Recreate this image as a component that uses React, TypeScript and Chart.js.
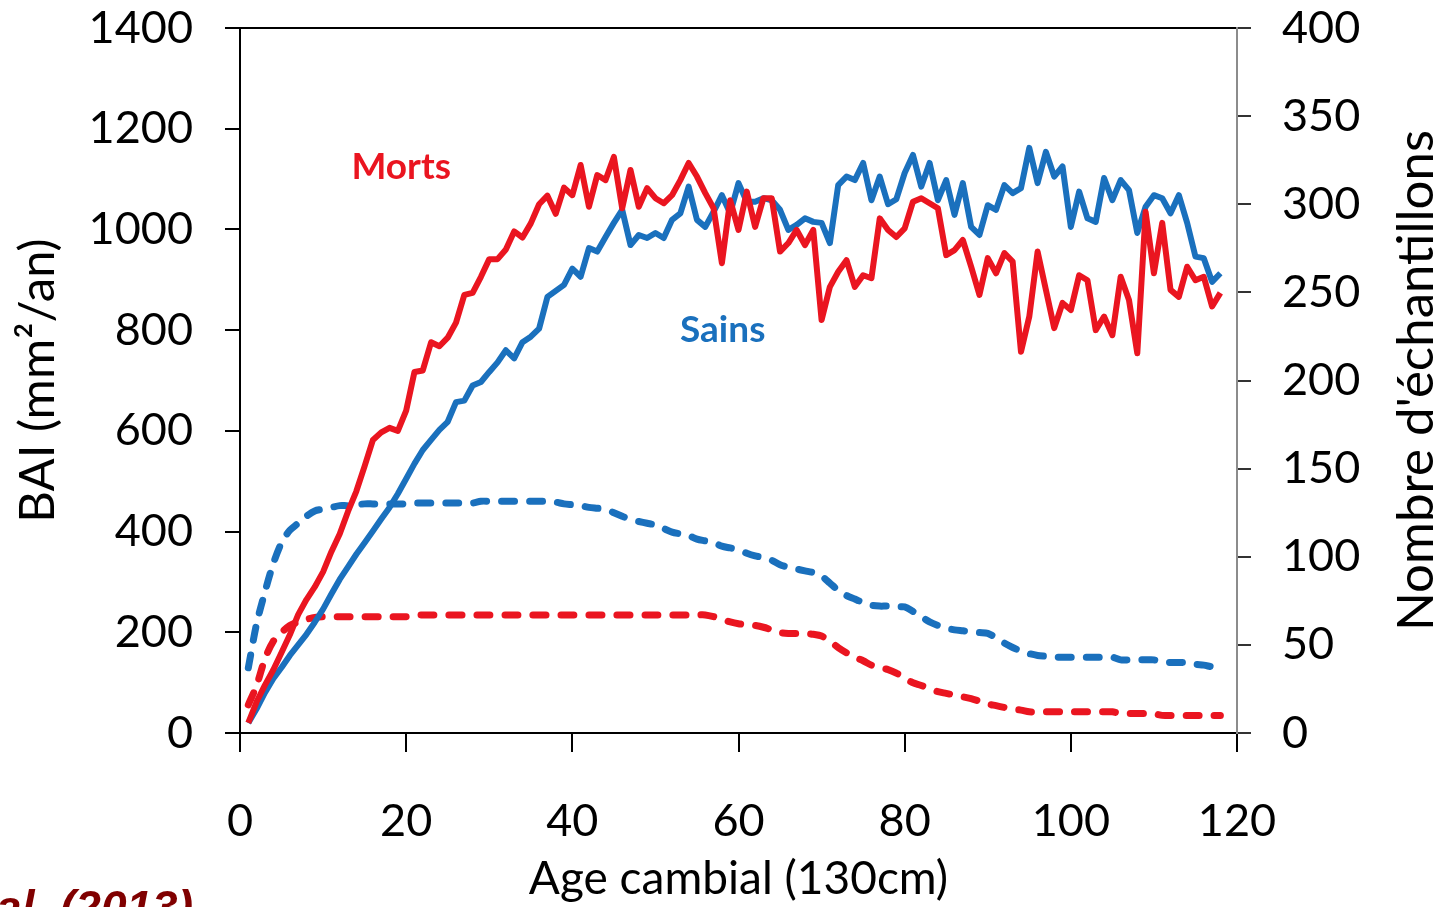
import React, { useEffect, useRef } from 'react';
import { Chart, registerables } from 'chart.js';

Chart.register(...registerables);

// Age cambial (years) at 130 cm
const ages = [
  1, 2, 3, 4, 5, 6, 7, 8, 9, 10, 11, 12, 13, 14, 15, 16, 17, 18, 19, 20,
  21, 22, 23, 24, 25, 26, 27, 28, 29, 30, 31, 32, 33, 34, 35, 36, 37, 38, 39, 40,
  41, 42, 43, 44, 45, 46, 47, 48, 49, 50, 51, 52, 53, 54, 55, 56, 57, 58, 59, 60,
  61, 62, 63, 64, 65, 66, 67, 68, 69, 70, 71, 72, 73, 74, 75, 76, 77, 78, 79, 80,
  81, 82, 83, 84, 85, 86, 87, 88, 89, 90, 91, 92, 93, 94, 95, 96, 97, 98, 99, 100,
  101, 102, 103, 104, 105, 106, 107, 108, 109, 110, 111, 112, 113, 114, 115, 116, 117, 118,
];

// BAI (mm²/an) – dead trees ("Morts")
const baiMorts = [
  20, 62, 95, 125, 160, 195, 235, 265, 290, 320,
  360, 395, 440, 480, 530, 582, 597, 606, 600, 640,
  717, 720, 776, 768, 785, 815, 870, 874, 906, 941,
  941, 960, 996, 984, 1012, 1050, 1067, 1031, 1083, 1068,
  1128, 1045, 1108, 1098, 1144, 1042, 1118, 1045, 1082, 1062,
  1052, 1068, 1098, 1132, 1105, 1072, 1042, 933, 1058, 999,
  1075, 1005, 1062, 1062, 956, 973, 999, 969, 999, 820,
  886, 916, 939, 886, 909, 903, 1022, 999, 985, 1002,
  1055, 1062, 1052, 1042, 949, 959, 979, 926, 870, 943,
  913, 953, 936, 757, 827, 956, 880, 804, 854, 840,
  909, 899, 800, 827, 790, 906, 860, 754, 1035, 913,
  1013, 880, 866, 926, 899, 906, 847, 874,
];

// BAI (mm²/an) – healthy trees ("Sains")
const baiSains = [
  20, 48, 80, 108, 130, 154, 175, 196, 220, 246,
  276, 305, 330, 355, 378, 401, 425, 448, 475, 505,
  535, 562, 582, 602, 618, 657, 660, 690, 697, 717,
  736, 760, 744, 776, 787, 803, 866, 878, 890, 922,
  906, 963, 956, 985, 1013, 1039, 969, 989, 983, 993,
  983, 1019, 1032, 1085, 1019, 1005, 1035, 1068, 1032, 1092,
  1055, 1055, 1062, 1058, 1039, 999, 1009, 1022, 1015, 1013,
  973, 1088, 1105, 1098, 1132, 1058, 1105, 1050, 1060, 1112,
  1148, 1085, 1132, 1058, 1098, 1029, 1092, 1005, 989, 1048,
  1039, 1088, 1072, 1082, 1162, 1092, 1154, 1105, 1125, 1005,
  1075, 1022, 1015, 1102, 1058, 1098, 1078, 993, 1045, 1068,
  1062, 1032, 1068, 1013, 946, 943, 896, 913,
];

// Nombre d'échantillons – dead trees
const nMorts = [
  16, 27, 42, 52, 57, 61, 63, 64.5, 65.5, 66,
  66, 66, 66, 66, 66, 66, 66, 66, 66, 66,
  67, 67, 67, 67, 67, 67, 67, 67, 67, 67,
  67, 67, 67, 67, 67, 67, 67, 67, 67, 67,
  67, 67, 67, 67, 67, 67, 67, 67, 67, 67,
  67, 67, 67, 67, 67, 67, 66, 64.5, 63, 62,
  61.5, 61, 60, 58.5, 57, 56.5, 56.5, 56.5, 56, 55,
  52, 48.5, 45.5, 43, 41, 38.5, 37, 36, 34, 31,
  28.5, 27, 25, 23.5, 22.5, 21.5, 20.5, 19.5, 18, 16.5,
  15.5, 14.5, 13.5, 13, 12, 12, 12, 12, 12, 12,
  12, 12, 12, 12, 12, 11, 11, 11, 11, 11,
  10, 10, 10, 10, 10, 10, 10, 10,
];

// Nombre d'échantillons – healthy trees
const nSains = [
  37, 62, 80, 96, 108, 115, 119, 123, 126, 127,
  128, 129, 129, 129.5, 130, 130, 130, 130, 130, 130,
  130.5, 130.5, 130.5, 130.5, 130.5, 130.5, 130.5, 130.5, 131.5, 131.5,
  131.5, 131.5, 131.5, 131.5, 131.5, 131.5, 131.5, 131, 130, 129.5,
  129, 128, 127.5, 127, 125, 123, 121, 120, 119, 118,
  116, 114, 113, 112, 110, 109, 108, 106, 105, 104,
  102, 100.5, 99.5, 98, 95.5, 94, 93, 92, 91, 89,
  85, 81, 78, 76, 74, 72.5, 72, 72, 71.5, 71.5,
  69, 66, 63, 61, 59.5, 58.5, 58, 57.5, 57, 56.5,
  54, 51, 48.5, 46.5, 45, 44, 43.5, 43, 43, 43,
  43, 43, 43, 43, 43, 41.5, 41.5, 41.5, 41.5, 41.5,
  40, 40, 40, 40, 39, 38.5, 37.5, 37,
];

const RED = '#EA1520';
const BLUE = '#1A70BD';
const CITE_COLOR = '#800000';

const seriesLabels = [
  { text: 'Morts', x: 19.4, y: 1124, color: RED },
  { text: 'Sains', x: 58.1, y: 800, color: BLUE },
];

const FONT = 'Lato';

const toPoints = (vals: number[]) => ages.map((a, i) => ({ x: a, y: vals[i] }));

const extrasPlugin = {
  id: 'extras',
  afterDatasetsDraw(chart: any) {
    const { ctx, scales } = chart;
    const x = scales.x;
    const y = scales.y;
    const y2 = scales.y2;
    ctx.save();
    // series labels
    ctx.font = `bold 37px ${FONT}`;
    ctx.textAlign = 'center';
    ctx.textBaseline = 'middle';
    for (const l of seriesLabels) {
      ctx.fillStyle = l.color;
      ctx.fillText(l.text, x.getPixelForValue(l.x), y.getPixelForValue(l.y));
    }
    // right axis title, reading bottom-to-top
    ctx.fillStyle = '#000';
    ctx.font = `51px ${FONT}`;
    ctx.textAlign = 'center';
    ctx.textBaseline = 'alphabetic';
    ctx.translate(chart.width - 6, (y2.top + y2.bottom) / 2);
    ctx.rotate(-Math.PI / 2);
    ctx.fillText("Nombre d'échantillons", 0, 0);
    ctx.restore();

    // citation (cut off at the page edge)
    ctx.save();
    ctx.font = 'italic bold 46px "Liberation Sans", Arial, sans-serif';
    ctx.fillStyle = CITE_COLOR;
    ctx.textAlign = 'right';
    ctx.textBaseline = 'alphabetic';
    ctx.fillText('al. (2013)', 193, 923);
    ctx.restore();
  },
};

const noPadV = (width: number) => (s: any) => {
  s.width = width;
  s.paddingTop = 0;
  s.paddingBottom = 0;
};

export default function App() {
  const ref = useRef<HTMLCanvasElement>(null);

  useEffect(() => {
    let chart: Chart | null = null;
    let cancelled = false;
    Promise.all([
      document.fonts.load(`45px ${FONT}`),
      document.fonts.load(`bold 37px ${FONT}`),
      document.fonts.load('italic bold 46px "Liberation Sans"'),
    ])
      .catch(() => undefined)
      .then(() => {
        if (cancelled || !ref.current) return;
        chart = new Chart(ref.current, {
          type: 'line',
          data: {
            datasets: [
              {
                label: 'Morts BAI',
                data: toPoints(baiMorts),
                borderColor: RED,
                borderWidth: 6,
                pointRadius: 0,
                tension: 0,
                yAxisID: 'y',
                borderJoinStyle: 'round',
              },
              {
                label: 'Sains BAI',
                data: toPoints(baiSains),
                borderColor: BLUE,
                borderWidth: 6,
                pointRadius: 0,
                tension: 0,
                yAxisID: 'y',
                borderJoinStyle: 'round',
              },
              {
                label: 'Morts n',
                data: toPoints(nMorts),
                borderColor: RED,
                borderWidth: 7,
                borderDash: [13, 15],
                borderCapStyle: 'round',
                pointRadius: 0,
                tension: 0.3,
                yAxisID: 'y2',
              },
              {
                label: 'Sains n',
                data: toPoints(nSains),
                borderColor: BLUE,
                borderWidth: 7,
                borderDash: [13, 15],
                borderCapStyle: 'round',
                pointRadius: 0,
                tension: 0.3,
                yAxisID: 'y2',
              },
            ],
          },
          options: {
            responsive: false,
            animation: false,
            layout: { padding: { top: 28, left: 0, right: 0, bottom: 0 } },
            plugins: {
              legend: { display: false },
              tooltip: { enabled: false },
            },
            scales: {
              x: {
                type: 'linear',
                position: 'bottom',
                min: 0,
                max: 120,
                afterFit: (s: any) => {
                  s.height = 174;
                  s.paddingLeft = 0;
                  s.paddingRight = 0;
                },
                ticks: {
                  stepSize: 20,
                  color: '#000',
                  font: { family: FONT, size: 45, lineHeight: 1 },
                  padding: 47,
                  callback: (v: any) => String(v),
                },
                grid: {
                  drawOnChartArea: false,
                  drawTicks: true,
                  tickLength: 19,
                  color: '#000',
                  lineWidth: 2,
                },
                border: { display: true, color: '#000', width: 2 },
                title: {
                  display: true,
                  text: 'Age cambial (130cm)',
                  color: '#000',
                  font: { family: FONT, size: 46, lineHeight: 1.2 },
                  padding: { top: 0, bottom: 0 },
                },
              },
              x2: {
                type: 'linear',
                position: 'top',
                min: 0,
                max: 120,
                display: true,
                afterFit: (s: any) => {
                  s.height = 0;
                  s.paddingLeft = 0;
                  s.paddingRight = 0;
                },
                ticks: { display: false },
                grid: { display: false, drawTicks: false },
                border: { display: true, color: '#000', width: 2 },
              },
              y: {
                type: 'linear',
                position: 'left',
                min: 0,
                max: 1400,
                afterFit: noPadV(240),
                ticks: {
                  stepSize: 200,
                  color: '#000',
                  font: { family: FONT, size: 45 },
                  padding: 32,
                  callback: (v: any) => String(v),
                },
                grid: {
                  drawOnChartArea: false,
                  drawTicks: true,
                  tickLength: 15,
                  color: '#000',
                  lineWidth: 2,
                },
                border: { display: true, color: '#000', width: 2 },
                title: {
                  display: true,
                  text: 'BAI (mm²/an)',
                  color: '#000',
                  font: { family: FONT, size: 49, lineHeight: 1.2 },
                  padding: { top: 9, bottom: 0 },
                },
              },
              y2: {
                type: 'linear',
                position: 'right',
                min: 0,
                max: 400,
                afterFit: noPadV(202),
                ticks: {
                  stepSize: 50,
                  color: '#000',
                  font: { family: FONT, size: 45 },
                  padding: 31,
                  callback: (v: any) => String(v),
                },
                grid: {
                  drawOnChartArea: false,
                  drawTicks: true,
                  tickLength: 14,
                  color: '#333',
                  lineWidth: 2,
                },
                border: { display: true, color: '#8c8c8c', width: 2 },
              },
            },
          },
          plugins: [extrasPlugin],
        } as any);
      });
    return () => {
      cancelled = true;
      if (chart) chart.destroy();
    };
  }, []);

  return (
    <canvas
      ref={ref}
      width={1439}
      height={907}
      style={{ position: 'absolute', left: 0, top: 0, display: 'block', background: '#fff' }}
    />
  );
}
